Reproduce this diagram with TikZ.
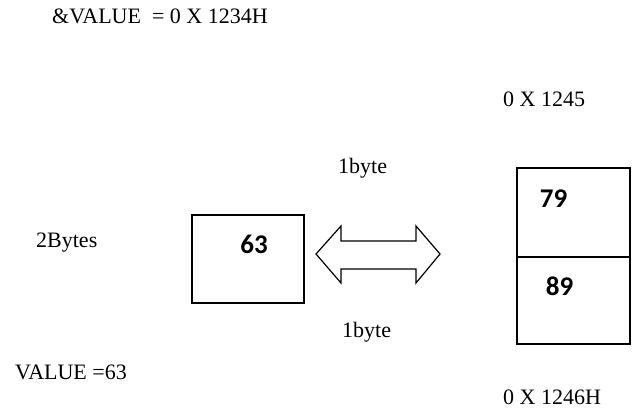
\documentclass[tikz,border=0pt]{standalone}
\usepackage{fontspec}
\setmainfont{Liberation Serif}
\newfontfamily\numfont{Carlito}
\begin{document}
\begin{tikzpicture}[x=1pt,y=-1pt,
  lbl/.style={anchor=base west,inner sep=0pt,font=\fontsize{22}{26}\selectfont},
  num/.style={anchor=base,inner sep=0pt,font=\numfont\bfseries\fontsize{27}{32}\selectfont}]
\useasboundingbox (0,0) rectangle (632,410);
\node[lbl] (addr) at (52,23) {\&VALUE\ \ = 0 X 1234H};
\node[lbl] (a1245) at (503,106) {0 X 1245};
\node[lbl] (b1) at (338,173) {1byte};
\node[lbl] (twob) at (36,247) {2Bytes};
\node[lbl] (b2) at (342,337) {1byte};
\node[lbl] (val) at (15,379) {VALUE =63};
\node[lbl] (a1246) at (503,404) {0 X 1246H};
\draw[line width=1.4pt] (192,215) rectangle (304,303);
\node[num] (n63) at (254,253) {63};
\draw[line width=1.4pt] (517,168) rectangle (630,344);
\draw[line width=1.4pt] (517,257) -- (630,257);
\node[num] (n79) at (553.5,207) {79};
\node[num] (n89) at (559.5,295) {89};
\draw[line width=1.2pt,line join=miter] (316,254) -- (341,226) -- (341,241) -- (416,241) -- (416,226) -- (440,254) -- (416,283) -- (416,269) -- (341,269) -- (341,283) -- cycle;
\end{tikzpicture}
\end{document}
